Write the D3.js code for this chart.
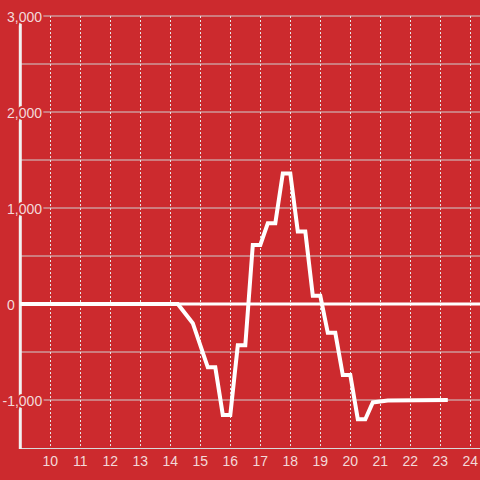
<!DOCTYPE html>
<html>
<head>
<meta charset="utf-8">
<script src="https://cdn.jsdelivr.net/npm/d3@7"></script>
<style>
  body { margin: 0; background: #cc2a2e; }
  #chart { width: 480px; height: 480px; }
  text { font-family: "Liberation Sans", Arial, sans-serif; font-size: 14px; fill: #f3d9d9; }
</style>
</head>
<body>
<div id="chart"></div>
<script>
// hour of day
var hours = [9, 14.25, 14.75, 15.25, 15.5, 15.75, 16, 16.25, 16.5, 16.75, 17, 17.25, 17.5,
             17.75, 18, 18.25, 18.5, 18.75, 19, 19.25, 19.5, 19.75, 20, 20.25, 20.5,
             20.75, 21.25, 23.25]
var values = [0, 0, -200, -660, -660, -1155, -1155, -430, -430, 615, 615, 840, 840,
              1360, 1360, 755, 755, 85, 85, -300, -300, -740, -740, -1200, -1200,
              -1025, -1005, -1000]

var xTicks = [10, 11, 12, 13, 14, 15, 16, 17, 18, 19, 20, 21, 22, 23, 24]
var yTicks = [3000, 2000, 1000, 0, -1000]
var yGrid = [3000, 2500, 2000, 1500, 1000, 500, -500, -1000]

var width = 480
var height = 480
var bg = "#cc2a2e"

var x = d3.scaleLinear().domain([9, 24]).range([20.3, 470.3])
var y = d3.scaleLinear().domain([-1500, 3000]).range([448, 16])

var svg = d3.select("#chart")
            .append("svg")
              .attr("width", width)
              .attr("height", height)

svg.append("rect")
    .attr("width", width)
    .attr("height", height)
    .attr("fill", bg)

// horizontal grid
svg.selectAll(".hgrid")
    .data(yGrid).enter()
    .append("line")
      .attr("class", "hgrid")
      .attr("x1", x(9))
      .attr("x2", width)
      .attr("y1", d => y(d))
      .attr("y2", d => y(d))
      .attr("stroke", "#cfcfcf")
      .attr("stroke-width", 1)

// vertical dotted grid
svg.selectAll(".vgrid")
    .data(xTicks).enter()
    .append("line")
      .attr("class", "vgrid")
      .attr("x1", d => Math.round(x(d)) + 0.5)
      .attr("x2", d => Math.round(x(d)) + 0.5)
      .attr("y1", y(3000))
      .attr("y2", y(-1500))
      .attr("stroke", "#e6e6e6")
      .attr("stroke-width", 1)
      .attr("stroke-dasharray", "2,2")

// bottom axis line
svg.append("line")
    .attr("x1", x(9))
    .attr("x2", width)
    .attr("y1", y(-1500) + 0.5)
    .attr("y2", y(-1500) + 0.5)
    .attr("stroke", "#d9d9d9")
    .attr("stroke-width", 1)

// zero line
svg.append("line")
    .attr("x1", x(9))
    .attr("x2", width)
    .attr("y1", y(0))
    .attr("y2", y(0))
    .attr("stroke", "#ffffff")
    .attr("stroke-width", 3)

// left axis bar
svg.append("line")
    .attr("x1", x(9))
    .attr("x2", x(9))
    .attr("y1", y(3000))
    .attr("y2", y(-1500) + 1)
    .attr("stroke", "#f2f2f2")
    .attr("stroke-width", 3)

// series line
var line = d3.line()
              .x((d, i) => x(hours[i]))
              .y(d => y(d))

svg.append("path")
    .datum(values)
    .attr("d", line)
    .attr("fill", "none")
    .attr("stroke", "#ffffff")
    .attr("stroke-width", 4)
    .attr("stroke-linejoin", "miter")

// y labels with red halo
var fmt = d3.format(",")
svg.selectAll(".ylab")
    .data(yTicks).enter()
    .append("text")
      .attr("class", "ylab")
      .attr("x", d => d < 0 ? 2.5 : 7)
      .attr("y", d => y(d) + 6.3)
      .attr("stroke", bg)
      .attr("stroke-width", 4)
      .attr("paint-order", "stroke")
      .text(d => fmt(d).replace("−", "-"))

// x labels
svg.selectAll(".xlab")
    .data(xTicks).enter()
    .append("text")
      .attr("class", "xlab")
      .attr("x", d => x(d))
      .attr("y", 466)
      .attr("text-anchor", "middle")
      .text(d => d)
</script>
</body>
</html>
